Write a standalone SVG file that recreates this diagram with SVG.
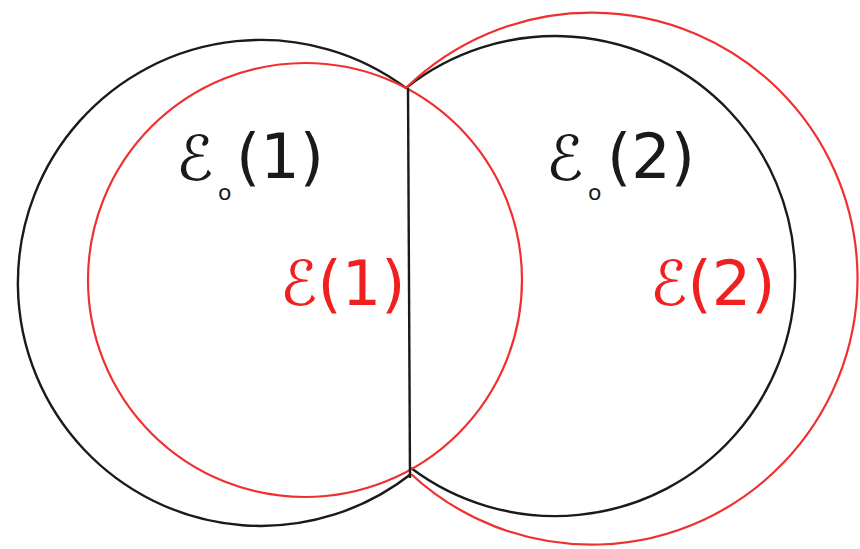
<svg xmlns="http://www.w3.org/2000/svg" width="860" height="549" viewBox="0 0 860 549">
<style>
.blk{fill:none;stroke:#1a1a1a;stroke-width:2.4}
.red{fill:none;stroke:#f03030;stroke-width:2.2}
.lb{font-family:"DejaVu Sans",sans-serif;font-size:62px}
.lbk{fill:#1a1a1a}
.lr{fill:#f02020}
.sub{font-family:"DejaVu Sans",sans-serif;font-size:22px}
</style>
<rect width="860" height="549" fill="#ffffff"/>
<g id="connectors">
<path class="blk" d="M406 88 A243 243 0 1 0 411 474"/>
<path class="blk" d="M406 88 A240 240 0 1 1 411 468"/>
<path class="red" d="M406 88 A266 266 0 1 1 411 474"/>
<path class="red" d="M305 63 A217 217 0 1 0 305 497 A217 217 0 1 0 305 63 Z"/>
<line class="blk" x1="408" y1="88" x2="410" y2="478"/>
</g>
<g id="E0-1">
<text class="lb lbk" x="176" y="180">ℰ</text>
<text class="sub lbk" x="218" y="200">o</text>
<text class="lb lbk" x="236" y="178">(1)</text>
</g>
<g id="E-1">
<text class="lb lr" x="280" y="305">ℰ(1)</text>
</g>
<g id="E0-2">
<text class="lb lbk" x="546" y="180">ℰ</text>
<text class="sub lbk" x="588" y="200">o</text>
<text class="lb lbk" x="607" y="178">(2)</text>
</g>
<g id="E-2">
<text class="lb lr" x="650" y="305">ℰ(2)</text>
</g>
</svg>
